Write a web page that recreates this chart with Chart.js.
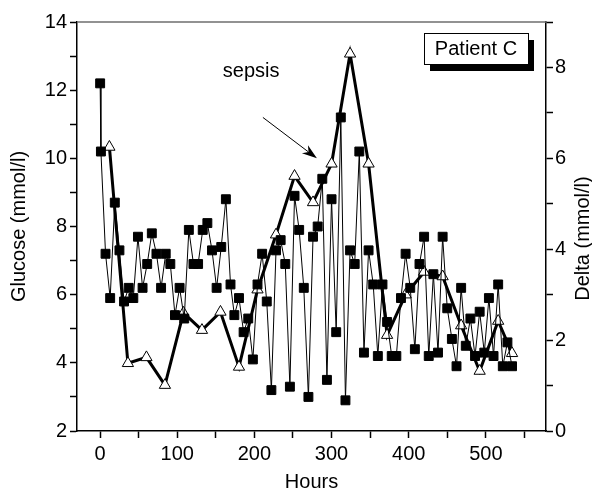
<!DOCTYPE html>
<html>
<head>
<meta charset="utf-8">
<script src="https://cdn.jsdelivr.net/npm/chart.js@4.4.1/dist/chart.umd.min.js"></script>
<style>
  html, body { margin: 0; padding: 0; background: #fff; }
  #wrap { width: 592px; height: 492px; }
</style>
</head>
<body>
<div id="wrap"><canvas id="chart"></canvas></div>
<script>
// Glucose samples (left axis), roughly every 6 hours
const glucoseHours = [0, 1, 7, 13, 19, 25, 31, 37, 43, 49, 55, 61, 67, 73, 79, 85, 91, 97, 103, 109,
  115, 121, 127, 133, 139, 145, 151, 157, 163, 169, 174, 180, 186, 192, 198, 204, 210, 216, 222, 228,
  234, 240, 246, 252, 258, 264, 270, 276, 282, 288, 294, 300, 306, 312, 318, 324, 330, 336, 342, 348,
  354, 360, 366, 372, 378, 384, 390, 396, 402, 408, 414, 420, 426, 432, 438, 444, 450, 456, 462, 468,
  474, 480, 486, 492, 498, 504, 510, 516, 522, 528, 534];
const glucoseValues = [12.2, 10.2, 7.2, 5.9, 8.7, 7.3, 5.8, 6.2, 5.9, 7.7, 6.2, 6.9, 7.8, 7.2, 6.2, 7.2, 6.9, 5.4, 6.2, 5.3,
  7.9, 6.9, 6.9, 7.9, 8.1, 7.3, 6.2, 7.4, 8.8, 6.3, 5.4, 5.9, 4.9, 5.3, 4.1, 6.3, 7.2, 5.8, 3.2, 7.3,
  7.6, 6.9, 3.3, 8.9, 7.9, 6.2, 3.0, 7.7, 8.0, 9.4, 3.5, 8.8, 4.9, 11.2, 2.9, 7.3, 6.9, 10.2, 4.3, 7.3,
  6.3, 4.2, 6.3, 5.2, 4.2, 4.2, 5.9, 7.2, 6.2, 4.4, 6.9, 7.7, 4.2, 6.6, 4.3, 7.7, 5.6, 4.7, 3.9, 6.2,
  4.5, 5.3, 4.2, 5.5, 4.3, 5.9, 4.2, 6.3, 3.9, 4.6, 3.9];

// Delta samples (right axis), daily
const deltaHours = [12, 36, 60, 84, 108, 132, 156, 180, 204, 228, 252, 276, 300, 324, 348, 372, 396, 420, 444, 468, 492, 516, 534];
const deltaValues = [6.25, 1.49, 1.62, 1.01, 2.6, 2.22, 2.62, 1.41, 3.11, 4.32, 5.61, 5.03, 5.88, 8.3, 5.88, 2.11, 3.0, 3.5, 3.4, 2.32, 1.32, 2.42, 1.71];

// tick labels
const hourTickLabels = [0, 100, 200, 300, 400, 500];
const glucoseTickLabels = [2, 4, 6, 8, 10, 12, 14];
const deltaTickLabels = [0, 2, 4, 6, 8];

// annotations (hours, glucose)
const sepsisAt = [159, 12.56];
const arrowFrom = [211, 11.2];
const arrowTo = [281, 10.0];

const FONT = '"Liberation Sans", Arial, sans-serif';
Chart.defaults.font.family = FONT;
Chart.defaults.color = '#000';

function axisGrid() {
    return {
        display: true,
        drawOnChartArea: false,
        drawTicks: true,
        tickLength: 7,
        tickColor: '#000',
        tickWidth: 1.5
    };
}

const decorations = {
    id: 'decorations',
    afterDraw(chart) {
        const { ctx, chartArea, scales } = chart;
        const x = scales.x, y = scales.y;
        ctx.save();

        // top frame line
        ctx.strokeStyle = '#6e6e6e';
        ctx.lineWidth = 1.5;
        ctx.beginPath();
        ctx.moveTo(chartArea.left, chartArea.top);
        ctx.lineTo(chartArea.right, chartArea.top);
        ctx.stroke();

        // sepsis label + arrow
        ctx.fillStyle = '#000';
        ctx.font = '20px ' + FONT;
        ctx.textAlign = 'left';
        ctx.textBaseline = 'middle';
        ctx.fillText('sepsis', x.getPixelForValue(sepsisAt[0]), y.getPixelForValue(sepsisAt[1]));

        const ax0 = x.getPixelForValue(arrowFrom[0]), ay0 = y.getPixelForValue(arrowFrom[1]);
        const ax1 = x.getPixelForValue(arrowTo[0]), ay1 = y.getPixelForValue(arrowTo[1]);
        const ang = Math.atan2(ay1 - ay0, ax1 - ax0);
        const headLen = 15, headW = 5;
        ctx.strokeStyle = '#000';
        ctx.lineWidth = 1;
        ctx.beginPath();
        ctx.moveTo(ax0, ay0);
        ctx.lineTo(ax1 - Math.cos(ang) * headLen * 0.7, ay1 - Math.sin(ang) * headLen * 0.7);
        ctx.stroke();
        ctx.beginPath();
        ctx.moveTo(ax1, ay1);
        ctx.lineTo(ax1 - Math.cos(ang) * headLen - Math.sin(ang) * headW, ay1 - Math.sin(ang) * headLen + Math.cos(ang) * headW);
        ctx.lineTo(ax1 - Math.cos(ang) * headLen * 0.7, ay1 - Math.sin(ang) * headLen * 0.7);
        ctx.lineTo(ax1 - Math.cos(ang) * headLen + Math.sin(ang) * headW, ay1 - Math.sin(ang) * headLen - Math.cos(ang) * headW);
        ctx.closePath();
        ctx.fill();

        // "Patient C" box with drop shadow
        const bw = 104, bh = 31;
        const bx = chartArea.right - 18 - bw, by = chartArea.top + 11;
        ctx.fillStyle = '#000';
        ctx.fillRect(bx + 6, by + 7, bw, bh);
        ctx.fillStyle = '#fff';
        ctx.fillRect(bx, by, bw, bh);
        ctx.strokeStyle = '#000';
        ctx.lineWidth = 1;
        ctx.strokeRect(bx + 0.5, by + 0.5, bw, bh);
        ctx.fillStyle = '#000';
        ctx.textAlign = 'center';
        ctx.fillText('Patient C', bx + bw / 2, by + bh / 2 + 1);

        // right axis title, reading bottom to top
        ctx.translate(scales.y1.right - 9, (chartArea.top + chartArea.bottom) / 2 + 12);
        ctx.rotate(-Math.PI / 2);
        ctx.textAlign = 'center';
        ctx.fillText('Delta (mmol/l)', 0, 0);
        ctx.restore();
    }
};

const ctx = document.getElementById('chart');
new Chart(ctx, {
    type: 'line',
    data: {
        datasets: [{
            label: 'Glucose',
            data: glucoseHours.map((h, i) => ({ x: h, y: glucoseValues[i] })),
            yAxisID: 'y',
            borderColor: '#000',
            borderWidth: 1,
            pointStyle: 'rect',
            pointRadius: 6.3,
            pointBackgroundColor: '#000',
            pointBorderColor: '#000',
            pointBorderWidth: 1,
            tension: 0,
            order: 0
        }, {
            label: 'Delta',
            data: deltaHours.map((h, i) => ({ x: h, y: deltaValues[i] })),
            yAxisID: 'y1',
            borderColor: '#000',
            borderWidth: 3,
            pointStyle: 'triangle',
            pointRadius: 6.5,
            pointBackgroundColor: '#fff',
            pointBorderColor: '#000',
            pointBorderWidth: 1,
            tension: 0,
            order: 1
        }]
    },
    options: {
        responsive: true,
        maintainAspectRatio: false,
        animation: false,
        layout: { padding: { top: 22, left: 0, right: 0, bottom: 0 } },
        plugins: {
            legend: { display: false },
            tooltip: { enabled: false }
        },
        scales: {
            x: {
                type: 'linear',
                min: -30,
                max: 578,
                grid: axisGrid(),
                border: { display: true, color: '#000', width: 1.5 },
                ticks: {
                    stepSize: 50,
                    includeBounds: false,
                    autoSkip: false,
                    maxRotation: 0,
                    padding: 4,
                    font: { size: 20 },
                    callback: v => hourTickLabels.includes(v) ? String(v) : ''
                },
                title: {
                    display: true,
                    text: 'Hours',
                    font: { size: 20, lineHeight: 1 },
                    padding: { top: 0, bottom: 0 }
                },
                afterFit: s => { s.height = 61; }
            },
            y: {
                position: 'left',
                min: 2,
                max: 14,
                grid: axisGrid(),
                border: { display: true, color: '#000', width: 1.5 },
                ticks: {
                    stepSize: 1,
                    autoSkip: false,
                    padding: 3,
                    font: { size: 20 },
                    callback: v => glucoseTickLabels.includes(v) ? String(v) : ''
                },
                title: {
                    display: true,
                    text: 'Glucose (mmol/l)',
                    font: { size: 20, lineHeight: 1 },
                    padding: { top: 9, bottom: 0 }
                },
                afterFit: s => { s.width = 77; }
            },
            y1: {
                position: 'right',
                min: 0,
                max: 9,
                grid: axisGrid(),
                border: { display: true, color: '#000', width: 1.5 },
                ticks: {
                    stepSize: 1,
                    autoSkip: false,
                    padding: 2,
                    font: { size: 20 },
                    callback: v => deltaTickLabels.includes(v) ? String(v) : ''
                },
                afterFit: s => { s.width = 46; }
            }
        }
    },
    plugins: [decorations]
});
</script>
</body>
</html>
